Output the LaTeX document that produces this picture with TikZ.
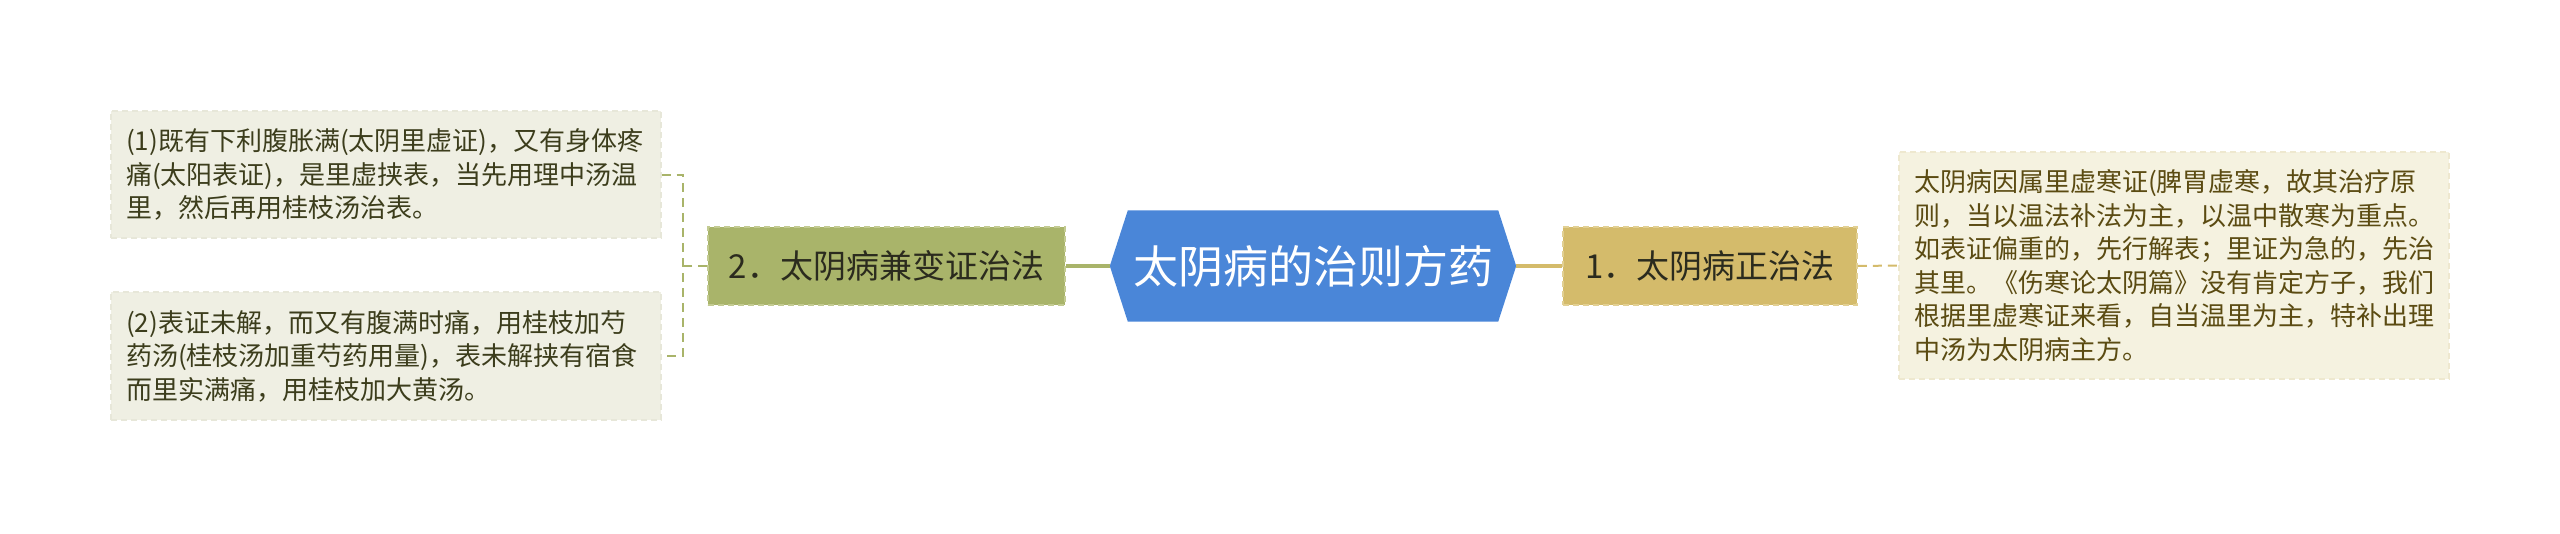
\documentclass[tikz,border=0pt]{standalone}
\usepackage{fontspec}
\newfontfamily\cjk{Noto Sans CJK SC}
\usetikzlibrary{calc,backgrounds}
\definecolor{hexblue}{HTML}{4A86D8}
\definecolor{olivenode}{HTML}{A9B46A}
\definecolor{olivebord}{HTML}{C3CB92}
\definecolor{tannode}{HTML}{D4BB6B}
\definecolor{tanbord}{HTML}{E2D093}
\definecolor{leftfill}{HTML}{EFEFE3}
\definecolor{leftbord}{HTML}{E7E7D9}
\definecolor{rightfill}{HTML}{F5F2E0}
\definecolor{rightbord}{HTML}{EEE8CF}
\definecolor{lefttext}{HTML}{3C3D1C}
\definecolor{righttext}{HTML}{5B4B12}
\definecolor{nodetext}{HTML}{2B2B1E}
\tikzset{
  leafbox/.style={rectangle, dashed, dash pattern=on 6pt off 4pt, line width=1.2pt,
    text width=520pt, inner xsep=15pt, inner ysep=0pt, minimum width=550pt,
    align=left, font=\cjk\fontsize{26}{33.5}\selectfont},
  leftleaf/.style={leafbox, fill=leftfill, draw=leftbord, text=lefttext},
  rightleaf/.style={leafbox, fill=rightfill, draw=rightbord, text=righttext},
  branch/.style={rectangle, dashed, dash pattern=on 6pt off 4pt, line width=1.5pt,
    inner sep=0pt, minimum height=78pt, text=nodetext,
    font=\cjk\fontsize{33}{38}\selectfont},
  solidlink/.style={line width=4pt},
  dashlink/.style={line width=2pt, dash pattern=on 9pt off 6pt},
}
\begin{document}
\begin{tikzpicture}[x=1pt,y=-1pt]
\useasboundingbox (0,0) rectangle (2560,533);
% central topic
\node[inner sep=0pt, minimum width=370pt, minimum height=111pt, text=white,
  font=\cjk\fontsize{45}{50}\selectfont] (title) at (1313,266) {太阴病的治则方药};
\coordinate (tw) at ($(title.west)+(-18,0)$);
\coordinate (te) at ($(title.east)+(18,0)$);
\begin{scope}[on background layer]
\fill[hexblue] (title.north west) -- (title.north east) -- (te) -- (title.south east)
  -- (title.south west) -- (tw) -- cycle;
\end{scope}
% branches
\node[branch, fill=olivenode, draw=olivebord, minimum width=357pt] (b2) at (886.5,266) {2．太阴病兼变证治法};
\node[branch, fill=tannode, draw=tanbord, minimum width=294pt] (b1) at (1710,266) {1．太阴病正治法};
% leaves
\node[leftleaf, minimum height=127pt] (l1) at (386,174.5) {(1)既有下利腹胀满(太阴里虚证)，又有身体疼\\痛(太阳表证)，是里虚挟表，当先用理中汤温\\里，然后再用桂枝汤治表。};
\node[leftleaf, minimum height=128pt] (l2) at (386,356) {(2)表证未解，而又有腹满时痛，用桂枝加芍\\药汤(桂枝汤加重芍药用量)，表未解挟有宿食\\而里实满痛，用桂枝加大黄汤。};
\node[rightleaf, minimum height=227pt] (r1) at (2174,265.5) {太阴病因属里虚寒证(脾胃虚寒，故其治疗原\\则，当以温法补法为主，以温中散寒为重点。\\如表证偏重的，先行解表；里证为急的，先治\\其里。《伤寒论太阴篇》没有肯定方子，我们\\根据里虚寒证来看，自当温里为主，特补出理\\中汤为太阴病主方。};
% connectors
\draw[solidlink, olivenode] (tw) -- (b2.east);
\draw[solidlink, tannode] (te) -- (b1.west);
\coordinate (jl) at (683,266);
\draw[dashlink, olivenode] (b2.west) -- (jl);
\draw[dashlink, olivenode] (l1.east) -| (jl) |- (l2.east);
\draw[dashlink, tannode] (b1.east) -- (r1.west);
\end{tikzpicture}
\end{document}
